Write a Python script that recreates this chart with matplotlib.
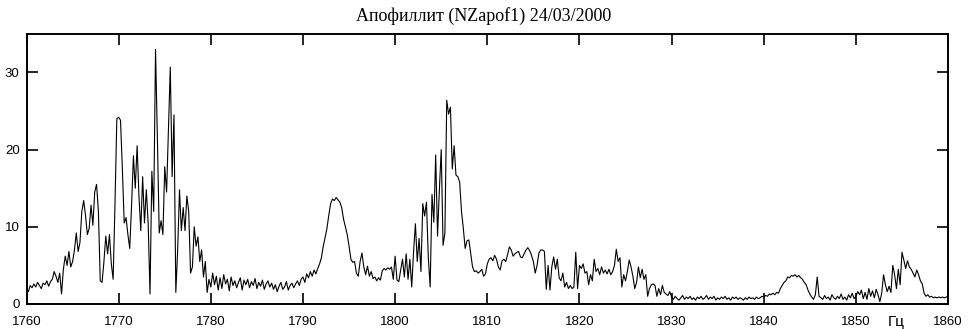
import numpy as np
import matplotlib
matplotlib.use("Agg")
import matplotlib.pyplot as plt

title = "Апофиллит (NZapof1) 24/03/2000"
unit_label = "Гц"
freq_start = 1760.0
freq_step = 0.2

# amplitude, 5 samples per Hz (1760.0 ... 1860.0)
amp = [
    2.0, 1.6, 2.4, 2.1, 2.6,   # 1760
    2.2, 2.8, 2.4, 2.0, 2.7,   # 1761
    2.5, 3.0, 2.3, 2.9, 3.2,   # 1762
    4.2, 3.6, 2.8, 4.0, 1.3,   # 1763
    4.5, 6.2, 5.0, 6.8, 4.8,   # 1764
    5.5, 7.0, 9.2, 6.8, 8.0,   # 1765
    12.0, 13.4, 11.5, 9.0, 9.8,  # 1766
    12.8, 10.2, 14.5, 15.5, 12.0,  # 1767
    3.0, 2.8, 5.5, 8.8, 6.5,   # 1768
    9.0, 5.2, 3.2, 13.0, 24.0,  # 1769
    24.2, 23.8, 17.5, 10.5, 11.2,  # 1770
    9.0, 7.2, 12.8, 19.2, 15.0,  # 1771
    20.5, 14.0, 9.5, 16.5, 10.5,  # 1772
    14.8, 10.5, 1.3, 17.2, 12.0,  # 1773
    33.0, 21.5, 9.2, 10.8, 9.0,  # 1774
    17.8, 14.5, 22.5, 30.7, 16.5,  # 1775
    24.5, 1.5, 7.0, 14.8, 9.5,  # 1776
    12.5, 9.5, 14.0, 12.0, 4.0,  # 1777
    4.8, 10.0, 7.5, 8.7, 5.5,  # 1778
    7.0, 3.5, 5.5, 1.5, 3.2,   # 1779
    2.2, 4.0, 2.5, 3.6, 1.8,   # 1780
    3.4, 2.0, 3.8, 2.6, 3.2,   # 1781
    1.7, 3.5, 2.4, 3.0, 2.1,   # 1782
    2.8, 3.4, 1.8, 3.1, 2.5,   # 1783
    3.2, 2.1, 2.9, 2.4, 3.3,   # 1784
    2.0, 2.8, 2.3, 3.1, 1.9,   # 1785
    2.6, 3.0, 2.2, 2.7, 1.9,   # 1786
    2.5, 1.6, 2.3, 2.8, 1.9,   # 1787
    2.2, 2.9, 1.8, 2.4, 2.7,   # 1788
    2.1, 2.6, 3.0, 2.4, 3.2,   # 1789
    3.5, 2.8, 3.9, 3.4, 4.2,   # 1790
    3.6, 4.4, 3.9, 4.6, 5.2,   # 1791
    6.0, 7.5, 8.6, 9.8, 11.5,  # 1792
    13.0, 13.6, 13.4, 13.8, 13.5,  # 1793
    13.2, 12.5, 11.0, 10.0, 9.0,  # 1794
    7.5, 5.8, 5.4, 5.5, 4.0,   # 1795
    3.6, 5.5, 6.6, 4.8, 3.8,   # 1796
    4.9, 3.6, 4.2, 3.3, 3.5,   # 1797
    3.0, 3.4, 3.1, 4.3, 4.6,   # 1798
    4.4, 4.7, 4.5, 4.8, 3.2,   # 1799
    6.2, 3.1, 2.9, 4.4, 5.8,   # 1800
    3.5, 6.5, 3.2, 5.8, 2.2,   # 1801
    6.8, 10.4, 5.5, 8.5, 4.2,  # 1802
    13.0, 11.4, 13.2, 6.0, 2.2,  # 1803
    14.2, 10.6, 19.3, 8.8, 14.8,  # 1804
    20.0, 7.6, 9.2, 26.4, 24.6,  # 1805
    25.5, 17.5, 20.5, 16.7, 16.5,  # 1806
    15.8, 12.0, 9.8, 7.2, 8.2,  # 1807
    8.3, 6.5, 4.8, 4.2, 4.3,   # 1808
    4.0, 4.2, 4.5, 3.6, 3.9,   # 1809
    5.2, 5.8, 6.0, 5.6, 6.3,   # 1810
    5.8, 4.8, 4.4, 5.6, 5.8,   # 1811
    5.5, 6.4, 7.4, 7.0, 6.2,   # 1812
    6.5, 6.7, 6.8, 6.1, 6.0,   # 1813
    6.5, 7.0, 7.3, 6.9, 6.3,   # 1814
    5.5, 4.0, 5.0, 6.6, 7.0,   # 1815
    7.0, 6.8, 1.9, 5.0, 1.8,   # 1816
    4.8, 6.1, 4.5, 5.8, 3.4,   # 1817
    3.0, 4.0, 2.2, 2.8, 2.0,   # 1818
    2.4, 2.0, 2.2, 6.7, 2.0,   # 1819
    5.0, 4.6, 5.2, 4.0, 4.2,   # 1820
    2.5, 3.8, 3.0, 5.8, 4.2,   # 1821
    4.6, 3.8, 4.8, 4.0, 4.4,   # 1822
    3.9, 4.5, 3.8, 4.2, 5.0,   # 1823
    7.1, 5.5, 6.0, 2.2, 3.8,   # 1824
    3.0, 4.2, 5.7, 4.8, 3.6,   # 1825
    2.0, 2.8, 4.8, 3.4, 4.5,   # 1826
    3.2, 3.8, 1.0, 2.0, 2.5,   # 1827
    2.6, 2.4, 1.0, 2.0, 1.2,   # 1828
    2.4, 1.5, 1.3, 1.1, 1.6,   # 1829
    0.9, 0.6, 1.0, 0.7, 0.5,   # 1830
    0.8, 1.1, 0.6, 0.9, 0.7,   # 1831
    1.0, 0.6, 0.8, 0.5, 0.9,   # 1832
    0.7, 1.0, 0.6, 0.8, 1.1,   # 1833
    0.6, 0.9, 0.7, 1.0, 0.5,   # 1834
    0.8, 0.6, 0.9, 0.7, 1.0,   # 1835
    0.6, 0.8, 0.5, 0.9, 0.7,   # 1836
    0.9, 0.6, 0.8, 0.7, 0.5,   # 1837
    0.8, 0.6, 0.9, 0.7, 0.8,   # 1838
    0.6, 0.9, 0.7, 0.8, 1.0,   # 1839
    0.9, 1.1, 1.0, 1.3, 1.2,   # 1840
    1.4, 1.2, 1.5, 1.4, 2.0,   # 1841
    2.4, 2.8, 3.0, 3.5, 3.4,   # 1842
    3.7, 3.6, 3.8, 3.5, 3.7,   # 1843
    3.4, 3.2, 2.8, 2.5, 1.8,   # 1844
    1.3, 0.9, 0.6, 1.2, 3.5,   # 1845
    1.0, 0.8, 0.6, 1.1, 0.7,   # 1846
    0.9, 0.5, 1.2, 0.8, 0.6,   # 1847
    1.0, 0.7, 1.3, 0.6, 0.9,   # 1848
    0.5, 1.2, 0.8, 1.4, 0.7,   # 1849
    1.0, 1.6, 1.2, 1.8, 0.7,   # 1850
    1.5, 0.6, 2.0, 1.0, 1.7,   # 1851
    0.8, 1.9, 1.2, 0.3, 1.4,   # 1852
    3.8, 2.5, 1.6, 2.3, 1.5,   # 1853
    5.0, 3.8, 2.0, 4.5, 2.5,   # 1854
    6.7, 5.7, 4.6, 5.6, 4.8,   # 1855
    4.5, 4.0, 3.5, 4.4, 3.8,   # 1856
    3.0, 2.6, 1.4, 1.0, 1.2,   # 1857
    0.9, 1.0, 0.8, 0.9, 0.8,   # 1858
    0.9, 0.8, 0.9, 0.8, 0.9,   # 1859
    1.0,                       # 1860
]

x_ticks = [1760, 1770, 1780, 1790, 1800, 1810, 1820, 1830, 1840, 1850, 1860]
y_ticks = [0, 10, 20, 30]

freq = freq_start + freq_step * np.arange(len(amp))

fig = plt.figure(figsize=(9.68, 3.29), dpi=100)
ax = fig.add_axes([0.0274, 0.076, 0.952, 0.821])
ax.plot(freq, amp, color="black", lw=0.8)
ax.set_xlim(1760, 1860)
ax.set_ylim(0, 35)
ax.set_xticks(x_ticks)
ax.set_yticks(y_ticks)
for s in ax.spines.values():
    s.set_linewidth(1.4)
ax.tick_params(direction="in", length=8, width=1.2, top=True, right=True,
               labelsize=9.5)
ax.tick_params(axis="x", pad=9)
ax.tick_params(axis="y", pad=5)
for lab in ax.get_xticklabels() + ax.get_yticklabels():
    lab.set_family("Liberation Sans")

ax.text(1854.4, -2.35, unit_label, ha="center", va="center", fontsize=11,
        family="Liberation Sans")
fig.text(0.5, 0.952, title, ha="center", va="center", fontsize=13,
         family="Liberation Serif")

fig.savefig("out.png", dpi=100)
